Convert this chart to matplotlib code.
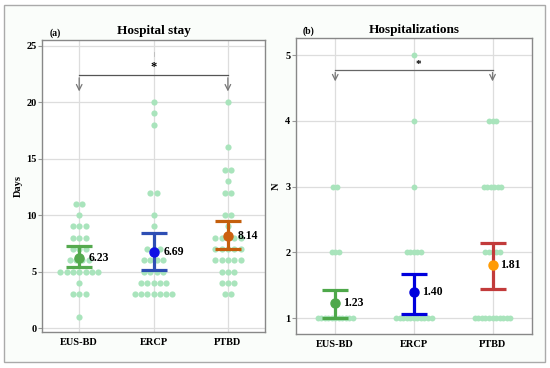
import numpy as np
import matplotlib
matplotlib.use("Agg")
import matplotlib.pyplot as plt
from matplotlib.patches import Rectangle

plt.rcParams['font.family'] = ['Liberation Serif', 'DejaVu Serif']

groups = ["EUS-BD", "ERCP", "PTBD"]

# (a) hospital stay: value -> number of patients
stay_counts = [
    {11: 2, 10: 1, 9: 3, 8: 3, 7: 3, 6: 4, 5: 7, 4: 1, 3: 3, 1: 1},
    {20: 1, 19: 1, 18: 1, 12: 2, 10: 1, 9: 1, 7: 3, 6: 4, 5: 4, 4: 5, 3: 7},
    {20: 1, 16: 1, 14: 2, 13: 1, 12: 2, 10: 2, 9: 1, 8: 5, 7: 5, 6: 5, 5: 3, 4: 3, 3: 2},
]
stay_mean = [6.23, 6.69, 8.14]
stay_lo = [5.38, 5.14, 6.97]
stay_hi = [7.27, 8.42, 9.51]

# (b) hospitalizations
hosp_counts = [
    {3: 2, 2: 3, 1: 11},
    {5: 1, 4: 1, 3: 1, 2: 5, 1: 11},
    {4: 3, 3: 6, 2: 5, 1: 11},
]
hosp_mean = [1.23, 1.40, 1.81]
hosp_lo = [1.00, 1.07, 1.45]
hosp_hi = [1.43, 1.68, 2.14]

dot_col = "#a9e4bc"


def dotplot(ax, counts, spacing, size):
    for i, c in enumerate(counts):
        for v, n in c.items():
            xs = i + (np.arange(n) - (n - 1) / 2) * spacing
            ax.scatter(xs, [v] * n, s=size, color=dot_col, linewidths=0, zorder=2)


def means(ax, m, lo, hi, bar_cols, pt_cols, off):
    for i in range(3):
        ax.errorbar(i, m[i], yerr=[[m[i] - lo[i]], [hi[i] - m[i]]], fmt="none",
                    ecolor=bar_cols[i], elinewidth=2.3, capsize=9.5, capthick=2.3, zorder=3)
        ax.plot(i, m[i], "o", color=pt_cols[i], markersize=6.5, zorder=4)
        ax.text(i + off, m[i], "%.2f" % m[i], fontsize=8.5, fontweight="bold",
                va="center", ha="left", zorder=5)


def style(ax):
    ax.set_xlim(-0.5, 2.5)
    ax.set_xticks(range(3))
    ax.set_xticklabels(groups, fontsize=7.5, fontweight="bold")
    for lab in ax.get_yticklabels():
        lab.set_fontweight("bold")
    ax.tick_params(axis="y", labelsize=7.5, length=3, color="#999999", pad=1)
    ax.tick_params(axis="x", length=0, pad=4)
    ax.grid(True, color="#dddddd", linewidth=0.9, zorder=0)
    ax.set_axisbelow(True)
    for s in ax.spines.values():
        s.set_color("#888888")
        s.set_linewidth(1.0)


fig = plt.figure(figsize=(5.5, 3.68), dpi=100)
fig.patch.set_facecolor("white")
fig.patches.append(Rectangle((4 / 550, 1 - 362 / 368), 541 / 550, 357 / 368,
                             transform=fig.transFigure, facecolor="#fafdfa",
                             edgecolor="#aaaaaa", linewidth=1.0, zorder=-1))

# panel (a)
ax1 = fig.add_axes([0.0764, 0.0978, 0.4055, 0.7935])
dotplot(ax1, stay_counts, 0.085, 20)
means(ax1, stay_mean, stay_lo, stay_hi,
      ["#55aa4f", "#2e4eb4", "#c45f0c"], ["#55aa4f", "#0f0fe6", "#cc6010"], 0.13)
ax1.set_ylim(-0.35, 25.5)
ax1.set_yticks([0, 5, 10, 15, 20, 25])
style(ax1)
ax1.set_ylabel("Days", fontsize=7.5, fontweight="bold", labelpad=2)
ax1.set_title("Hospital stay", fontsize=9.5, fontweight="bold", pad=4)
ax1.text(-0.4, 25.9, "(a)", fontsize=7, fontweight="bold")
ax1.plot([0, 2], [22.4, 22.4], color="#555555", lw=0.9)
for x in [0, 2]:
    ax1.annotate("", xy=(x, 20.7), xytext=(x, 22.4),
                 arrowprops=dict(arrowstyle="->", color="#777777", lw=0.9))
ax1.text(1, 22.6, "*", ha="center", va="bottom", fontsize=9, fontweight="bold")
ax1.plot([1, 1], [24.1, 24.4], color="#bbbbbb", lw=0.6)

# panel (b)
ax2 = fig.add_axes([0.538, 0.0924, 0.429, 0.804])
dotplot(ax2, hosp_counts, 0.045, 18)
means(ax2, hosp_mean, hosp_lo, hosp_hi,
      ["#4ea84a", "#0000dd", "#c23b3b"], ["#4ea84a", "#0000dd", "#ff9b05"], 0.1)
ax2.set_ylim(0.76, 5.26)
ax2.set_yticks([1, 2, 3, 4, 5])
style(ax2)
ax2.set_ylabel("N", fontsize=7.5, fontweight="bold", labelpad=3)
ax2.set_title("Hospitalizations", fontsize=9.5, fontweight="bold", pad=4)
ax2.text(-0.42, 5.33, "(b)", fontsize=7, fontweight="bold")
ax2.plot([0, 2], [4.78, 4.78], color="#666666", lw=0.9)
for x in [0, 2]:
    ax2.annotate("", xy=(x, 4.56), xytext=(x, 4.78),
                 arrowprops=dict(arrowstyle="->", color="#777777", lw=0.9))
ax2.text(1.06, 4.79, "*", ha="center", va="bottom", fontsize=8, fontweight="bold")

fig.savefig("out.png", dpi=100)
